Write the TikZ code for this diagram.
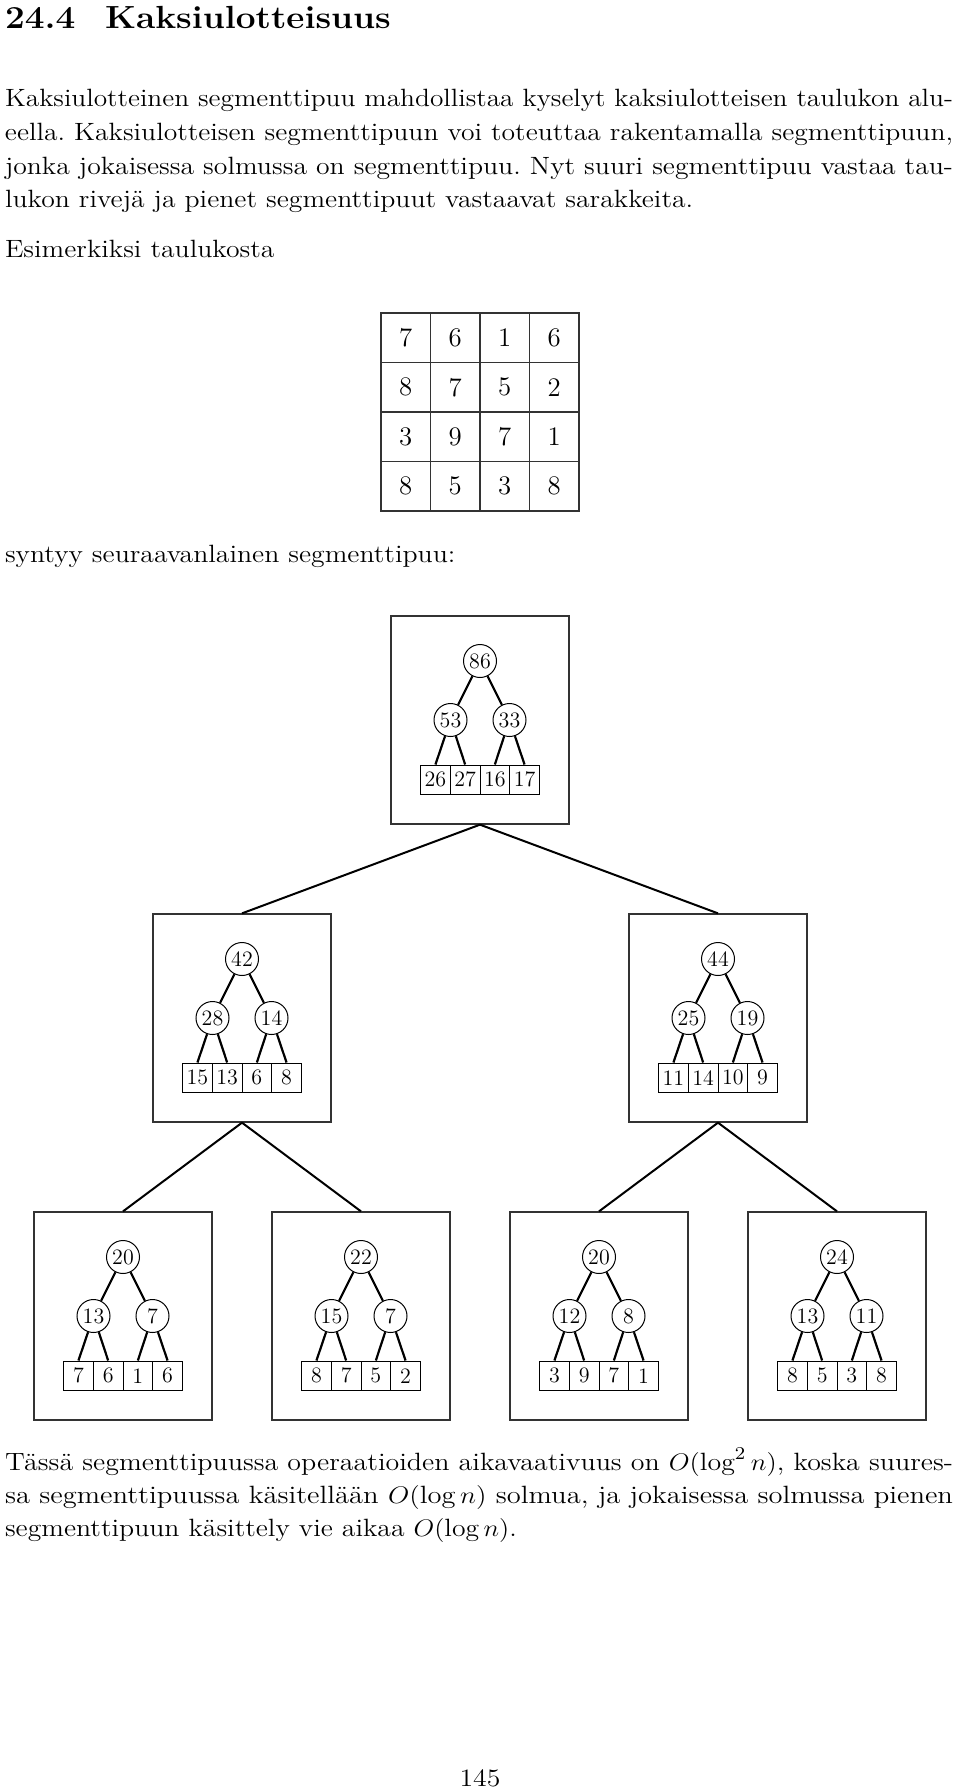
\documentclass[tikz,border=0pt]{standalone}
\usepackage{fontspec}
\usepackage{graphicx}
\tikzset{
  txt/.style={anchor=base west, inner sep=0pt, outer sep=0pt},
  tnode/.style={circle, draw, line width=0.5pt, inner sep=0pt, minimum size=16.5pt, font=\fontsize{11}{13}\selectfont},
  leafcell/.style={draw, line width=0.5pt, inner sep=0pt, minimum width=14.85pt, minimum height=14.75pt, font=\fontsize{11}{13}\selectfont},
  tedge/.style={line width=1.1pt},
  treebox/.style={draw=black!80, line width=0.65pt, minimum width=89pt, minimum height=104pt, inner sep=0pt},
  conn/.style={line width=1pt},
  mcell/.style={draw=black!80, line width=0.6pt, minimum size=24.75pt, inner sep=0pt, font=\fontsize{13.4}{16}\selectfont},
}
\newcommand\bodyfont{\fontsize{12.5}{15}\selectfont\frenchspacing}
\newcommand\jline[1]{\resizebox{474pt}{\height}{#1}}
\newcommand\rline[1]{\scalebox{1.11}[1]{#1}}
% #1 name, #2 "cx,by", #3 root, #4 left, #5 right, #6-#9 leaves
\newcommand\segtree[9]{%
  \begin{scope}[shift={(#2)}]
    \node[treebox] (#1) at (0,104) {};
    \node[tnode] (#1r) at (0,45) {#3};
    \node[tnode] (#1a) at (-29.5,104) {#4};
    \node[tnode] (#1b) at (29.5,104) {#5};
    \node[leafcell] (#1p) at (-44.55,163.75) {#6};
    \node[leafcell] (#1q) at (-14.85,163.75) {#7};
    \node[leafcell] (#1s) at (14.85,163.75) {#8};
    \node[leafcell] (#1t) at (44.55,163.75) {#9};
    \draw[tedge] (#1r) -- (#1a);
    \draw[tedge] (#1r) -- (#1b);
    \draw[tedge] (#1a) -- (#1p.north);
    \draw[tedge] (#1a) -- (#1q.north);
    \draw[tedge] (#1b) -- (#1s.north);
    \draw[tedge] (#1b) -- (#1t.north);
  \end{scope}}
\begin{document}
\begin{tikzpicture}[x=0.5pt, y=-0.5pt]
\useasboundingbox (0,0) rectangle (960,1790);
% heading
\node[txt] (h1) at (5,28) {\scalebox{1.1}[1]{\fontsize{16}{19}\selectfont\bfseries 24.4}};
\node[txt] (h2) at (105,28) {\scalebox{1.1}[1]{\fontsize{16}{19}\selectfont\bfseries Kaksiulotteisuus}};
% first paragraph
\node[txt] (p1) at (5,106.7) {\bodyfont\jline{Kaksiulotteinen segmenttipuu mahdollistaa kyselyt kaksiulotteisen taulukon alu-}};
\node[txt] (p2) at (5,140.4) {\bodyfont\jline{eella. Kaksiulotteisen segmenttipuun voi toteuttaa rakentamalla segmenttipuun,}};
\node[txt] (p3) at (5,174.1) {\bodyfont\jline{jonka jokaisessa solmussa on segmenttipuu. Nyt suuri segmenttipuu vastaa tau-}};
\node[txt] (p4) at (5,207.8) {\bodyfont\rline{lukon rivejä ja pienet segmenttipuut vastaavat sarakkeita.}};
\node[txt] (p5) at (5,257.7) {\bodyfont\rline{Esimerkiksi taulukosta}};
% matrix
\foreach \r/\vals in {1/{7,6,1,6},2/{8,7,5,2},3/{3,9,7,1},4/{8,5,3,8}}{
  \foreach \v [count=\c] in \vals {
    \node[mcell] (m\r\c) at ({405.8+49.5*(\c-1)},{337.8+49.5*(\r-1)}) {\v};
  }
}
\node[txt] (p6) at (5,562) {\bodyfont\rline{syntyy seuraavanlainen segmenttipuu:}};
% trees
\segtree{T}{480,616}{86}{53}{33}{26}{27}{16}{17}
\segtree{L}{242,914}{42}{28}{14}{15}{13}{6}{8}
\segtree{R}{718,914}{44}{25}{19}{11}{14}{10}{9}
\segtree{A}{123,1212}{20}{13}{7}{7}{6}{1}{6}
\segtree{B}{361,1212}{22}{15}{7}{8}{7}{5}{2}
\segtree{C}{599,1212}{20}{12}{8}{3}{9}{7}{1}
\segtree{D}{837,1212}{24}{13}{11}{8}{5}{3}{8}
\draw[conn] (T.south) -- (L.north);
\draw[conn] (T.south) -- (R.north);
\draw[conn] (L.south) -- (A.north);
\draw[conn] (L.south) -- (B.north);
\draw[conn] (R.south) -- (C.north);
\draw[conn] (R.south) -- (D.north);
% last paragraph
\node[txt] (q1) at (5,1470) {\bodyfont\jline{Tässä segmenttipuussa operaatioiden aikavaativuus on $O(\log^2 n)$, koska suures-}};
\node[txt] (q2) at (5,1503.4) {\bodyfont\jline{sa segmenttipuussa käsitellään $O(\log n)$ solmua, ja jokaisessa solmussa pienen}};
\node[txt] (q3) at (5,1536.8) {\bodyfont\rline{segmenttipuun käsittely vie aikaa $O(\log n)$.}};
% page number
\node[anchor=base, inner sep=0pt] (pg) at (480,1786) {\bodyfont\rline{145}};
\end{tikzpicture}
\end{document}
